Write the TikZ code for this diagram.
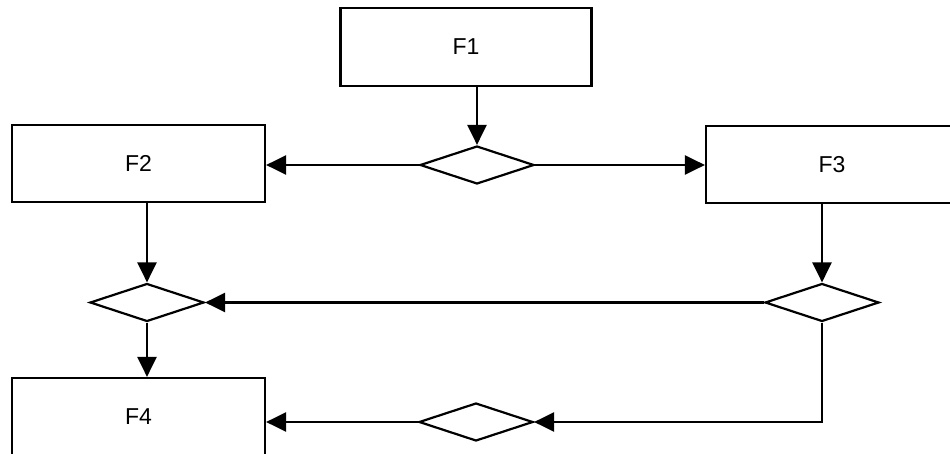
\documentclass[tikz,border=0pt]{standalone}
\usepackage{fontspec}
\setmainfont{Liberation Sans}
\usetikzlibrary{shapes.geometric,arrows.meta}
\begin{document}
\begin{tikzpicture}[x=1pt,y=-1pt,
  fbox/.style={draw=black,line width=2.2pt,minimum width=253pt,minimum height=77pt,inner sep=0pt,font=\fontsize{23}{25}\selectfont},
  dmd/.style={draw=black,line width=2.2pt,diamond,minimum width=114pt,minimum height=38pt,inner sep=0pt},
  arr/.style={line width=2.4pt,-{Triangle[length=20pt,width=19pt]}}]
\useasboundingbox[fill=white] (0,0) rectangle (950,454);
\node[fbox,minimum width=251pt,minimum height=78pt] (F1) at (466,47) {F1};
\node[fbox] (F2) at (138.5,163.5) {F2};
\node[fbox,minimum width=252pt] (F3) at (832,164.5) {F3};
\node[fbox] (F4) at (138.5,416.5) {F4};
\node[dmd] (D1) at (477,165) {};
\node[dmd] (D2) at (147,302.5) {};
\node[dmd] (D3) at (822,302.5) {};
\node[dmd] (D4) at (476,422) {};
\draw[arr] (D1.north |- F1.south) -- (D1.north);
\draw[arr] (D1.west) -- (D1.west -| F2.east);
\draw[arr] (D1.east) -- (D1.east -| F3.west);
\draw[arr] (D2.north |- F2.south) -- (D2.north);
\draw[arr] (D3.north |- F3.south) -- (D3.north);
\draw[arr] (D3.west) -- (D2.east);
\draw[arr] (D2.south) -- (D2.south |- F4.north);
\draw[arr] (D3.south) |- (D4.east);
\draw[arr] (D4.west) -- (D4.west -| F4.east);
\end{tikzpicture}
\end{document}
